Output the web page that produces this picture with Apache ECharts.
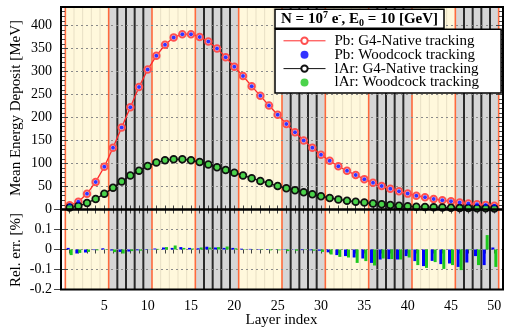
<!DOCTYPE html>
<html><head><meta charset="utf-8">
<script src="https://cdn.jsdelivr.net/npm/echarts@6/dist/echarts.min.js"></script>
<style>html,body{margin:0;padding:0;background:#fff;}#c{width:505px;height:327px;}</style>
</head><body><div id="c"></div>
<script>
// ---------- data ----------
const layers = [1,2,3,4,5,6,7,8,9,10,11,12,13,14,15,16,17,18,19,20,21,22,23,24,25,26,27,28,29,30,31,32,33,34,35,36,37,38,39,40,41,42,43,44,45,46,47,48,49,50];
const pbNative = [9,17,34,60,93,134,178,222,266,304,334,358,374,381,381,375,365,350,331,310,290,268,247,226,206,186,168,150,134,119,106,94,84,75,66,58,51,45,39.5,34.5,30,26.5,23,20,17.8,15,12.8,11.3,9.8,8.3];
const lArNative = [4.5,7.5,14,23,34,47,61,74,84,94.5,102,107,109,109,107,103,98,92,86,80,74,68,62,57,51,46,42,37.5,33,29,25,22,19,17,15,12.8,11.3,9.8,8.3,7,6,5.4,5,4.3,3.7,3.2,3,2.7,2.5,2.2];
const pbRelErr = [0.008,-0.02,-0.015,-0.003,0.006,-0.005,-0.012,-0.01,-0.004,0.002,0.005,0.01,0.008,0.012,0.008,0.006,0.014,0.01,0.008,0.008,0.004,0.003,0.002,0.002,0.001,-0.002,0.001,-0.003,-0.004,-0.006,-0.014,-0.028,-0.033,-0.04,-0.045,-0.067,-0.05,-0.048,-0.05,-0.033,-0.058,-0.083,-0.057,-0.073,-0.07,-0.087,-0.065,-0.033,-0.078,0.01];
const lArRelErr = [-0.028,-0.017,-0.012,-0.004,0.002,-0.013,-0.02,-0.008,-0.006,0.001,0.003,0.012,0.02,0.008,0.005,0.01,0.01,0.012,0.015,0.006,0.002,0.001,-0.002,-0.004,-0.004,-0.008,-0.006,-0.002,-0.006,-0.012,-0.025,-0.037,-0.04,-0.067,-0.058,-0.08,-0.045,-0.048,-0.05,-0.04,-0.078,-0.092,-0.063,-0.097,-0.078,-0.103,-0.003,-0.078,0.072,-0.087];
const seriesNames = ['Pb: G4-Native tracking','Pb: Woodcock tracking','lAr: G4-Native tracking','lAr: Woodcock tracking'];
const xTickLabels = [5,10,15,20,25,30,35,40,45,50];
const yTickLabelsUpper = [0,50,100,150,200,250,300,350,400];
const yTickLabelsLower = [-0.2,-0.1,0,0.1];
// detector geometry background (layer boundaries)
const bandEdges = [0.5,5.5,10.5,15.5,20.5,25.5,30.5,35.5,40.5,45.5,50.5];
const bandKinds = ['a','b','a','b','a','b','a','b','a','b'];
const layerEdges = [0.5,1.5,2.5,3.5,4.5,5.5,6.5,7.5,8.5,9.5,10.5,11.5,12.5,13.5,14.5,15.5,16.5,17.5,18.5,19.5,20.5,21.5,22.5,23.5,24.5,25.5,26.5,27.5,28.5,29.5,30.5,31.5,32.5,33.5,34.5,35.5,36.5,37.5,38.5,39.5,40.5,41.5,42.5,43.5,44.5,45.5,46.5,47.5,48.5,49.5,50.5];

// ---------- helpers ----------
const FONT = 'Liberation Serif';
const bandData = bandKinds.map((k,i)=>[bandEdges[i], bandEdges[i+1], 0]);
function edgeKind(e){
  if (bandEdges.indexOf(e) >= 0) return 'edge';
  for (let i=0;i<bandKinds.length;i++){ if (e>bandEdges[i] && e<bandEdges[i+1]) return bandKinds[i]; }
  return 'a';
}
const edgeData = layerEdges.map(e=>[e,0]);
function renderBand(params, api){
  const cs = params.coordSys;
  const x0 = api.coord([api.value(0),0])[0];
  const x1 = api.coord([api.value(1),0])[0];
  const k = bandKinds[params.dataIndex];
  return {type:'rect', shape:{x:x0,y:cs.y,width:x1-x0,height:cs.height}, style:{fill: k==='a' ? '#fff8dc' : '#d6d6d6'}};
}
function renderEdge(params, api){
  const cs = params.coordSys;
  const x = api.coord([api.value(0),0])[0];
  const k = edgeKind(layerEdges[params.dataIndex]);
  let stroke='#e8dfc4', w=1, z2=1;
  if (k==='b'){ stroke='#2b2b2b'; w=2; z2=2; }
  if (k==='edge'){ stroke='#ff6a3d'; w=1.6; z2=3; }
  return {type:'line', z2:z2, shape:{x1:x,y1:cs.y,x2:x,y2:cs.y+cs.height}, style:{stroke:stroke, lineWidth:w}};
}
const pts = arr => layers.map((l,i)=>[l, arr[i]]);

const tickStyle = {color:'#444', width:1};
function xTickAxis(grid, pos){
  return {type:'value', gridIndex:grid, position:pos, min:0, max:51, interval:1, z:2,
    axisLine:{show:false}, axisLabel:{show:false}, splitLine:{show:false},
    axisTick:{show:true, inside:true, length:4, lineStyle:tickStyle}};
}
function yTickAxis(grid, pos, min, max, interval, len){
  return {type:'value', gridIndex:grid, position:pos, min:min, max:max, interval:interval, z:2,
    axisLine:{show:false}, axisLabel:{show:false}, splitLine:{show:false},
    axisTick:{show:true, inside:true, length:len, lineStyle:tickStyle}};
}

const chart = echarts.init(document.getElementById('c'), null, {renderer:'canvas'});
const option = {
  animation:false,
  backgroundColor:'#fff',
  textStyle:{fontFamily:FONT},
  grid:[
    {left:61, right:2, top:7, height:202.5, show:true, z:10, backgroundColor:'transparent', borderColor:'#000', borderWidth:2},
    {left:61, right:2, top:209.5, height:80, show:true, z:10, backgroundColor:'transparent', borderColor:'#000', borderWidth:2}
  ],
  xAxis:[
    xTickAxis(0,'bottom'),
    {type:'value', gridIndex:1, position:'bottom', min:0, max:51, interval:5, z:2,
      axisLine:{show:false}, axisTick:{show:false}, splitLine:{show:false},
      axisLabel:{show:true, margin:10, color:'#000', fontFamily:FONT, fontSize:14, showMinLabel:false, showMaxLabel:false,
        formatter: v => xTickLabels.indexOf(v)>=0 ? String(v) : ''}},
    xTickAxis(0,'top'),
    xTickAxis(1,'top')
  ],
  yAxis:[
    {type:'value', gridIndex:0, position:'left', min:0, max:440, interval:50, z:2,
      axisLine:{show:false},
      axisTick:{show:true, inside:true, length:7, lineStyle:tickStyle},
      splitLine:{show:true, lineStyle:{color:'#8a8a8a', width:1, type:[2,3]}},
      axisLabel:{show:true, margin:9, color:'#000', fontFamily:FONT, fontSize:14, showMaxLabel:false,
        formatter: v => yTickLabelsUpper.indexOf(v)>=0 ? String(v) : ''}},
    {type:'value', gridIndex:1, position:'left', min:-0.2, max:0.2, interval:0.1, z:2,
      axisLine:{show:false},
      axisTick:{show:true, inside:true, length:7, lineStyle:tickStyle},
      splitLine:{show:true, lineStyle:{color:'#8a8a8a', width:1, type:[2,3]}},
      axisLabel:{show:true, margin:9, color:'#000', fontFamily:FONT, fontSize:14, showMaxLabel:false,
        formatter: v => { const r = Math.round(v*10)/10; return yTickLabelsLower.indexOf(r)>=0 ? String(r) : ''; }}},
    yTickAxis(0,'left',0,440,10,4),
    yTickAxis(0,'right',0,440,10,4),
    yTickAxis(0,'right',0,440,50,7),
    yTickAxis(1,'right',-0.2,0.2,0.1,7)
  ],
  legend:{
    orient:'vertical', left:275, top:29.3, z:20,
    data:seriesNames,
    backgroundColor:'#fff', borderColor:'#000', borderWidth:1.5,
    padding:[4,22,3,8], itemWidth:42, itemHeight:8, itemGap:-1.1,
    lineStyle:{width:1},
    textStyle:{fontFamily:FONT, fontSize:15, color:'#000', lineHeight:13, padding:[0,0,0,4]}
  },
  title:{
    left:275, top:9.3, z:20,
    padding:[1,6,0,6],
    backgroundColor:'#fff', borderColor:'#000', borderWidth:1.5,
    text:'{a|N = 10}{sup|7}{a| e}{sup|-}{a|, E}{sub|0}{a| = 10 [GeV]}',
    textStyle:{rich:{
      a:{fontFamily:FONT, fontWeight:'bold', fontSize:15, color:'#000', lineHeight:18},
      sup:{fontFamily:FONT, fontWeight:'bold', fontSize:10, color:'#000', lineHeight:10, verticalAlign:'top'},
      sub:{fontFamily:FONT, fontWeight:'bold', fontSize:10, color:'#000', lineHeight:10, verticalAlign:'bottom'}
    }}
  },
  graphic:[
    {type:'text', x:16, y:108, rotation:Math.PI/2, z:20,
      style:{text:'Mean Energy Deposit [MeV]', font:'15px "Liberation Serif"', fill:'#000', textAlign:'center', textVerticalAlign:'middle'}},
    {type:'text', x:16, y:250, rotation:Math.PI/2, z:20,
      style:{text:'Rel. err. [%]', font:'15px "Liberation Serif"', fill:'#000', textAlign:'center', textVerticalAlign:'middle'}},
    {type:'text', x:281.5, y:320, z:20,
      style:{text:'Layer index', font:'15px "Liberation Serif"', fill:'#000', textAlign:'center', textVerticalAlign:'middle'}}
  ],
  series:[
    {type:'custom', name:'bands0', xAxisIndex:0, yAxisIndex:0, z:0, silent:true, clip:false, data:bandData, encode:{x:[0,1], y:2}, renderItem:renderBand},
    {type:'custom', name:'edges0', xAxisIndex:0, yAxisIndex:0, z:1, silent:true, clip:false, data:edgeData, encode:{x:0, y:1}, renderItem:renderEdge},
    {type:'custom', name:'bands1', xAxisIndex:1, yAxisIndex:1, z:0, silent:true, clip:false, data:bandData, encode:{x:[0,1], y:2}, renderItem:renderBand},
    {type:'custom', name:'edges1', xAxisIndex:1, yAxisIndex:1, z:1, silent:true, clip:false, data:edgeData, encode:{x:0, y:1}, renderItem:renderEdge},
    {type:'line', name:seriesNames[0], xAxisIndex:0, yAxisIndex:0, z:3, data:pts(pbNative),
      lineStyle:{color:'#ff2a2a', width:1.3}, symbol:'emptyCircle', symbolSize:6.5,
      itemStyle:{color:'#ff5050', borderColor:'#ff5050', borderWidth:1.3}},
    {type:'scatter', name:seriesNames[1], xAxisIndex:0, yAxisIndex:0, z:4, data:pts(pbNative),
      symbol:'circle', symbolSize:4, itemStyle:{color:'#0000ff'}},
    {type:'line', name:seriesNames[2], xAxisIndex:0, yAxisIndex:0, z:3, data:pts(lArNative),
      lineStyle:{color:'#111', width:1.3}, symbol:'emptyCircle', symbolSize:6.5,
      itemStyle:{color:'#111', borderColor:'#111', borderWidth:1.2}},
    {type:'scatter', name:seriesNames[3], xAxisIndex:0, yAxisIndex:0, z:4, data:pts(lArNative),
      symbol:'circle', symbolSize:5, itemStyle:{color:'#1ec81e'}},
    {type:'bar', name:'pbErr', xAxisIndex:1, yAxisIndex:1, z:3, data:pts(pbRelErr),
      barWidth:3, barGap:'0%', itemStyle:{color:'#0000ff'}},
    {type:'bar', name:'lArErr', xAxisIndex:1, yAxisIndex:1, z:3, data:pts(lArRelErr),
      barWidth:3, barGap:'0%', itemStyle:{color:'#1ec81e'}}
  ]
};
chart.setOption(option);
</script></body></html>
